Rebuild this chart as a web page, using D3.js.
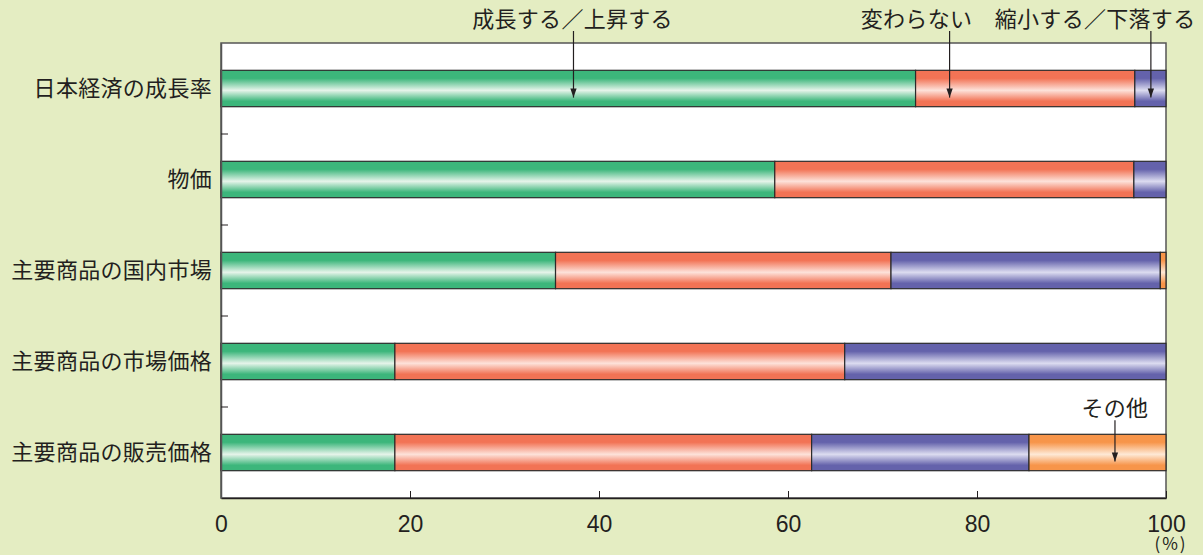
<!DOCTYPE html>
<html>
<head>
<meta charset="utf-8">
<script src="https://cdn.jsdelivr.net/npm/d3@7"></script>
<style>
body { margin: 0; background: #e4edc2; }
text { font-family: "Noto Sans CJK JP", "Noto Sans", sans-serif; fill: #231f20; }
text.num { font-family: "Liberation Sans", Arial, sans-serif; }
</style>
</head>
<body>
<div id="chart"></div>
<script>
// categories (top to bottom)
var categories = ['日本経済の成長率', '物価', '主要商品の国内市場', '主要商品の市場価格', '主要商品の販売価格'];
var seriesNames = ['成長する／上昇する', '変わらない', '縮小する／下落する', 'その他'];
// shares in %
var grow   = [73.5, 58.6, 35.4, 18.4, 18.4];
var same   = [23.2, 38.0, 35.5, 47.6, 44.1];
var shrink = [3.3, 3.4, 28.5, 34.0, 23.0];
var other  = [0, 0, 0.6, 0, 14.5];
var xTicks = [0, 20, 40, 60, 80, 100];

var width = 1203, height = 555;
var margin = {top: 43, right: 37, bottom: 57, left: 221};
var w = width - margin.left - margin.right;
var h = height - margin.top - margin.bottom;

var colors = [
	{c: '#3cb67b', light: '#e6f4ea'},
	{c: '#f27355', light: '#fde2da'},
	{c: '#6462ab', light: '#dcdcf0'},
	{c: '#f7954a', light: '#fee9d6'}
];

var svg = d3.select('#chart').append('svg')
	.attr('width', width)
	.attr('height', height);

var defs = svg.append('defs');
colors.forEach(function(col, i){
	var g = defs.append('linearGradient')
		.attr('id', 'grad' + i)
		.attr('x1', 0).attr('y1', 0).attr('x2', 0).attr('y2', 1);
	g.append('stop').attr('offset', '0%').attr('stop-color', col.c);
	g.append('stop').attr('offset', '22%').attr('stop-color', col.c);
	g.append('stop').attr('offset', '55%').attr('stop-color', col.light);
	g.append('stop').attr('offset', '85%').attr('stop-color', col.c);
	g.append('stop').attr('offset', '100%').attr('stop-color', col.c);
});
defs.append('marker')
	.attr('id', 'arrow')
	.attr('viewBox', '0 0 10 10')
	.attr('refX', 10).attr('refY', 5)
	.attr('markerWidth', 11).attr('markerHeight', 9)
	.attr('markerUnits', 'userSpaceOnUse')
	.attr('orient', 'auto')
	.append('path')
	.attr('d', 'M0,1.5 L10,5 L0,8.5 Z')
	.attr('fill', '#231f20');

var g = svg.append('g').attr('transform', 'translate(' + margin.left + ',' + margin.top + ')');

var x = d3.scaleLinear().domain([0, 100]).range([0, w]);
var y = d3.scaleBand().domain(categories).range([0, h]).paddingInner(0.6).paddingOuter(0.3);

// plot frame
g.append('rect')
	.attr('width', w).attr('height', h)
	.attr('fill', '#fff')
	.attr('stroke', '#555').attr('stroke-width', 1.5);

// stacked data
var rows = categories.map(function(cat, i){
	return {cat: cat, grow: grow[i], same: same[i], shrink: shrink[i], other: other[i]};
});
var stack = d3.stack().keys(['grow', 'same', 'shrink', 'other']);
var layers = stack(rows);

g.selectAll('g.layer')
	.data(layers)
	.enter()
	.append('g')
	.attr('class', 'layer')
	.attr('fill', function(d, i){ return 'url(#grad' + i + ')'; })
	.selectAll('rect')
	.data(function(d){ return d.filter(function(s){ return s[1] - s[0] > 0; }); })
	.enter()
	.append('rect')
	.attr('x', function(d){ return x(d[0]); })
	.attr('y', function(d){ return y(d.data.cat); })
	.attr('width', function(d){ return x(d[1]) - x(d[0]); })
	.attr('height', y.bandwidth())
	.attr('stroke', '#2b2b2b')
	.attr('stroke-width', 1.2);

// bottom axis, ticks inward
var xAxis = g.append('g')
	.attr('transform', 'translate(0,' + h + ')')
	.call(d3.axisBottom(x).tickValues(xTicks).tickSizeInner(-7).tickSizeOuter(0).tickPadding(18));
xAxis.select('.domain').attr('stroke', '#231f20').attr('stroke-width', 1.5);
xAxis.selectAll('.tick line').attr('stroke', '#231f20');
xAxis.selectAll('.tick text')
	.attr('class', 'num')
	.attr('font-size', 23)
	.attr('fill', '#231f20');
g.append('text')
	.attr('x', x(100) + 5).attr('y', h + 52)
	.attr('text-anchor', 'middle')
	.attr('font-size', 17)
	.attr('letter-spacing', 2)
	.text('(%)');

// left axis: small ticks between categories
var yAxis = g.append('g').call(d3.axisLeft(y).tickSize(0).tickPadding(9));
yAxis.select('.domain').attr('stroke', '#555').attr('stroke-width', 1.5);
yAxis.selectAll('.tick text')
	.attr('font-size', 22)
	.attr('letter-spacing', 0.3)
	.attr('fill', '#231f20')
	.attr('font-family', '"Noto Sans CJK JP", sans-serif');
var step = y.step();
g.selectAll('line.sep')
	.data(categories.slice(1))
	.enter()
	.append('line')
	.attr('x1', 0).attr('x2', 7)
	.attr('y1', function(d){ return y(d) - (step - y.bandwidth()) / 2; })
	.attr('y2', function(d){ return y(d) - (step - y.bandwidth()) / 2; })
	.attr('stroke', '#231f20');

// callouts: label, label x (%), arrow x (%), row index, label baseline, arrow start
var notes = [
	{text: seriesNames[0], tx: 37.2, ax: 37.3, row: 0, ty: -16, y1: -12},
	{text: seriesNames[1], tx: 73.6, ax: 77.1, row: 0, ty: -16, y1: -12},
	{text: seriesNames[2], tx: 92.5, ax: 98.4, row: 0, ty: -16, y1: -12},
	{text: seriesNames[3], tx: 94.6, ax: 94.6, row: 4, ty: -18, y1: -14}
];
notes.forEach(function(n){
	var cat = categories[n.row];
	var yTop = n.row === 0 ? 0 : y(cat);
	g.append('text')
		.attr('x', x(n.tx)).attr('y', yTop + n.ty)
		.attr('text-anchor', 'middle')
		.attr('font-size', 22)
		.attr('letter-spacing', 0.3)
		.text(n.text);
	g.append('line')
		.attr('x1', x(n.ax)).attr('x2', x(n.ax))
		.attr('y1', yTop + n.y1)
		.attr('y2', y(cat) + y.bandwidth() * 0.75)
		.attr('stroke', '#231f20').attr('stroke-width', 1.2)
		.attr('marker-end', 'url(#arrow)');
});
</script>
</body>
</html>
